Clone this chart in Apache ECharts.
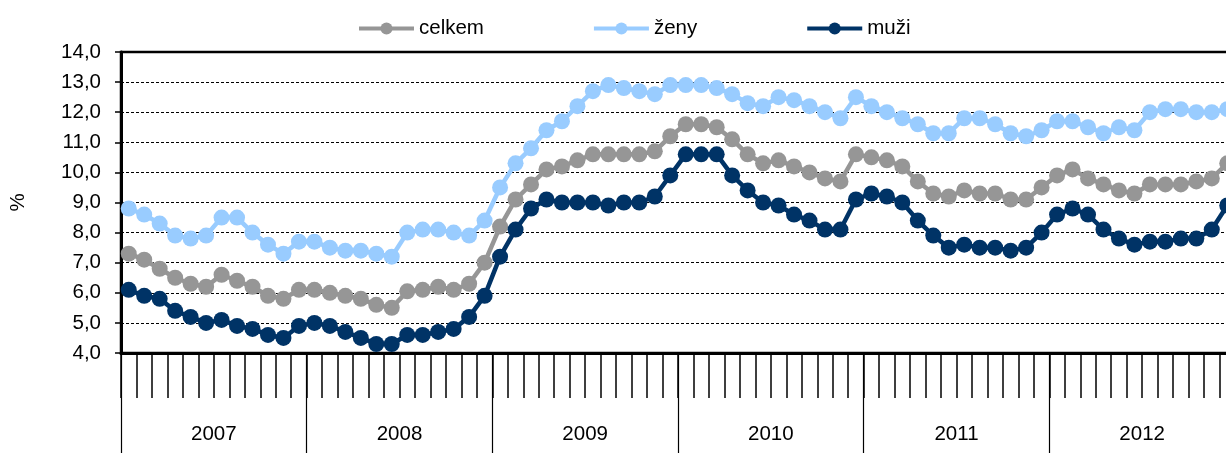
<!DOCTYPE html>
<html>
<head>
<meta charset="utf-8">
<script src="https://cdn.jsdelivr.net/npm/echarts@6/dist/echarts.min.js"></script>
<style>
html,body{margin:0;padding:0;overflow:hidden;background:#fff;}
#chart{width:1236px;height:453px;}
</style>
</head>
<body>
<div id="chart"></div>
<script>
const years = ['2007','2008','2009','2010','2011','2012'];
const monthNums = ['01','02','03','04','05','06','07','08','09','10','11','12'];

const celkem = [
  7.3, 7.1, 6.8, 6.5, 6.3, 6.2, 6.6, 6.4, 6.2, 5.9, 5.8, 6.1,
  6.1, 6.0, 5.9, 5.8, 5.6, 5.5, 6.05, 6.1, 6.2, 6.1, 6.3, 7.0,
  8.2, 9.1, 9.6, 10.1, 10.2, 10.4, 10.6, 10.6, 10.6, 10.6, 10.7, 11.2,
  11.6, 11.6, 11.5, 11.1, 10.6, 10.3, 10.4, 10.2, 10.0, 9.8, 9.7, 10.6,
  10.5, 10.4, 10.2, 9.7, 9.3, 9.2, 9.4, 9.3, 9.3, 9.1, 9.1, 9.5,
  9.9, 10.1, 9.8, 9.6, 9.4, 9.3, 9.6, 9.6, 9.6, 9.7, 9.8, 10.3
];
const zeny = [
  8.8, 8.6, 8.3, 7.9, 7.8, 7.9, 8.5, 8.5, 8.0, 7.6, 7.3, 7.7,
  7.7, 7.5, 7.4, 7.4, 7.3, 7.2, 8.0, 8.1, 8.1, 8.0, 7.9, 8.4,
  9.5, 10.3, 10.8, 11.4, 11.7, 12.2, 12.7, 12.9, 12.8, 12.7, 12.6, 12.9,
  12.9, 12.9, 12.8, 12.6, 12.3, 12.2, 12.5, 12.4, 12.2, 12.0, 11.8, 12.5,
  12.2, 12.0, 11.8, 11.6, 11.3, 11.3, 11.8, 11.8, 11.6, 11.3, 11.2, 11.4,
  11.7, 11.7, 11.5, 11.3, 11.5, 11.4, 12.0, 12.1, 12.1, 12.0, 12.0, 12.1
];
const muzi = [
  6.1, 5.9, 5.8, 5.4, 5.2, 5.0, 5.1, 4.9, 4.8, 4.6, 4.5, 4.9,
  5.0, 4.9, 4.7, 4.5, 4.3, 4.3, 4.6, 4.6, 4.7, 4.8, 5.2, 5.9,
  7.2, 8.1, 8.8, 9.1, 9.0, 9.0, 9.0, 8.9, 9.0, 9.0, 9.2, 9.9,
  10.6, 10.6, 10.6, 9.9, 9.4, 9.0, 8.9, 8.6, 8.4, 8.1, 8.1, 9.1,
  9.3, 9.2, 9.0, 8.4, 7.9, 7.5, 7.6, 7.5, 7.5, 7.4, 7.5, 8.0,
  8.6, 8.8, 8.6, 8.1, 7.8, 7.6, 7.7, 7.7, 7.8, 7.8, 8.1, 8.9
];

const months = [];
years.forEach(y => monthNums.forEach(m => months.push(y + '-' + m)));

const FONT = "'Liberation Sans', Arial, sans-serif";
const chart = echarts.init(document.getElementById('chart'));

function lineSeries(name, data, color) {
  return {
    name: name, type: 'line', data: data, xAxisIndex: 0,
    lineStyle: {color: color, width: 4.5},
    itemStyle: {color: color},
    symbol: 'circle', symbolSize: 16, showAllSymbol: true,
    emphasis: {disabled: true}, animation: false
  };
}

chart.setOption({
  animation: false,
  textStyle: {fontFamily: FONT},
  legend: {
    left: 352, top: 13,
    itemWidth: 55, itemHeight: 15, itemGap: 108,
    lineStyle: {width: 4},
    textStyle: {fontFamily: FONT, fontSize: 20.5, color: '#000'},
    data: ['celkem', 'ženy', 'muži']
  },
  grid: {
    left: 118, top: 52, right: 1, bottom: 100,
    show: true, borderColor: '#000', borderWidth: 2.5, backgroundColor: 'transparent'
  },
  xAxis: [
    {
      type: 'category', data: months, boundaryGap: true,
      axisLine: {lineStyle: {color: '#000', width: 3}},
      axisTick: {show: true, interval: 0, length: 45, lineStyle: {color: '#000', width: 1.5}},
      axisLabel: {show: false},
      splitLine: {show: false}
    },
    {
      type: 'category', data: years, boundaryGap: true, position: 'bottom',
      axisLine: {show: false},
      axisTick: {show: true, interval: 0, length: 100, lineStyle: {color: '#000', width: 1.2}},
      axisLabel: {margin: 71, fontSize: 20.5, color: '#000', fontFamily: FONT},
      splitLine: {show: false}
    }
  ],
  yAxis: {
    type: 'value', min: 4, max: 14, interval: 1,
    name: '%', nameLocation: 'middle', nameGap: 92, nameRotate: 90,
    nameTextStyle: {fontSize: 20.5, color: '#000', fontFamily: FONT},
    axisLine: {show: true, lineStyle: {color: '#000', width: 3}},
    axisTick: {show: true, length: 6, lineStyle: {color: '#000', width: 1.5}},
    axisLabel: {
      margin: 20, fontSize: 20.5, color: '#000', fontFamily: FONT,
      formatter: v => v.toFixed(1).replace('.', ',')
    },
    splitLine: {show: true, lineStyle: {color: '#000', width: 1, type: [3, 2]}}
  },
  series: [
    lineSeries('celkem', celkem, '#969696'),
    lineSeries('ženy', zeny, '#99CCFF'),
    lineSeries('muži', muzi, '#003366')
  ]
});
</script>
</body>
</html>
